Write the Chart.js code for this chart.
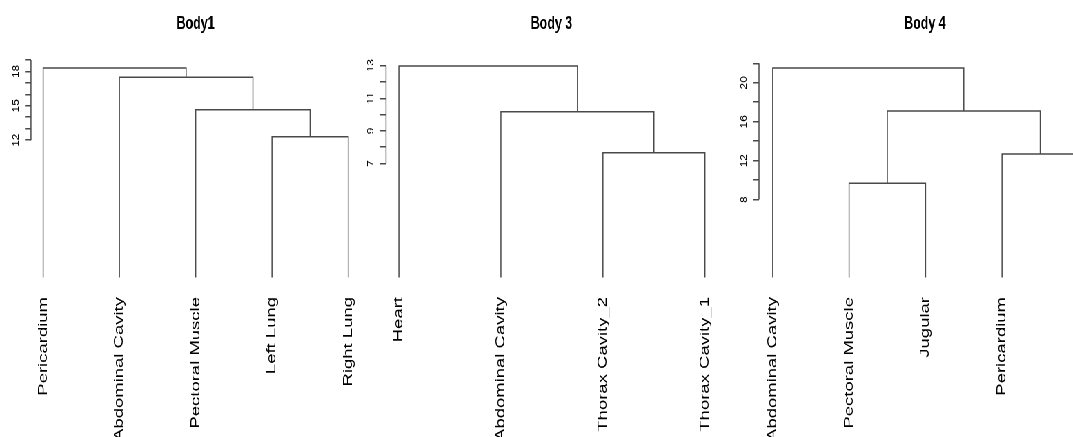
<!DOCTYPE html>
<html>
<head>
<meta charset="utf-8">
<script src="https://cdn.jsdelivr.net/npm/chart.js@4"></script>
<style>
  html, body { margin: 0; padding: 0; background: #fff; width: 1073px; height: 437px; overflow: hidden; }
  #stage { position: absolute; left: 0; top: 0; height: 437px; transform-origin: 0 0; }
  #stage canvas { position: absolute; top: 0; }
</style>
</head>
<body>
<div id="stage"></div>
<script>
// ---- Body1 ----
const body1Leaves = ['Pericardium', 'Abdominal Cavity', 'Pectoral Muscle', 'Left Lung', 'Right Lung'];
// hclust-style merges: negative = leaf (1-based, in plotted order), positive = earlier merge
const body1Merges = [[-4, -5], [-3, 1], [-2, 2], [-1, 3]];
const body1Heights = [12.3, 14.65, 17.5, 18.3];
const body1Ticks = [12, 13, 14, 15, 16, 17, 18, 19];
const body1TickLabels = ['12', '', '', '15', '', '', '18', ''];

// ---- Body 3 ----
const body3Leaves = ['Heart', 'Abdominal Cavity', 'Thorax Cavity_2', 'Thorax Cavity_1'];
const body3Merges = [[-3, -4], [-2, 1], [-1, 2]];
const body3Heights = [7.66, 10.18, 12.98];
const body3Ticks = [7, 8, 9, 10, 11, 12, 13];
const body3TickLabels = ['7', '', '9', '', '11', '', '13'];

// ---- Body 4 ----
const body4Leaves = ['Abdominal Cavity', 'Pectoral Muscle', 'Jugular', 'Pericardium', 'Heart'];
const body4Merges = [[-2, -3], [-4, -5], [1, 2], [-1, 3]];
const body4Heights = [9.67, 12.68, 17.1, 21.53];
const body4Ticks = [8, 10, 12, 14, 16, 18, 20, 22];
const body4TickLabels = ['8', '', '12', '', '16', '', '20', ''];

// ---- drawing setup ----
const SX = 0.69;              // horizontal compression of the whole figure
const H = 437;
const AREA_BOTTOM = 277.5;    // pixel row of height 0
const FAMILY = '"Liberation Sans", Arial, Helvetica, sans-serif';
const LINE = '#4a4a4a';
const LW = 1.5;
const TICK_LEN = 8.7;
const Y_FONT = 12;
const Y_LABEL_OFF = 21.5;
const TITLE_SIZE = 18;
const TITLE_PAD_TOP = 15;

const stage = document.getElementById('stage');
stage.style.width = Math.ceil(1073 / SX + 60) + 'px';
stage.style.transform = `scaleX(${SX})`;

// R-style axis: line only across the tick range, rotated tick labels
const rAxis = {
  id: 'rAxis',
  afterDraw(chart, args, opts) {
    const y = chart.scales.y, ctx = chart.ctx, x0 = chart.chartArea.left;
    const vals = y.ticks.map(t => t.value);
    ctx.save();
    ctx.strokeStyle = LINE;
    ctx.lineWidth = LW;
    ctx.beginPath();
    ctx.moveTo(x0, y.getPixelForValue(Math.min(...vals)));
    ctx.lineTo(x0, y.getPixelForValue(Math.max(...vals)));
    ctx.stroke();
    ctx.fillStyle = '#000';
    ctx.font = `${Y_FONT}px ${FAMILY}`;
    ctx.textAlign = 'center';
    ctx.textBaseline = 'middle';
    opts.labels.forEach((lab, i) => {
      if (!lab) return;
      ctx.save();
      ctx.translate(x0 - Y_LABEL_OFF, y.getPixelForValue(vals[i]));
      ctx.rotate(-Math.PI / 2);
      ctx.fillText(lab, 0, 0);
      ctx.restore();
    });
    ctx.restore();
  }
};

function dendroSegments(merges, heights) {
  const nodes = [], segs = [];
  const at = c => c < 0 ? { x: -c, h: 0 } : nodes[c - 1];
  merges.forEach((m, i) => {
    const a = at(m[0]), b = at(m[1]), h = heights[i];
    segs.push([{ x: a.x, y: a.h }, { x: a.x, y: h }, { x: b.x, y: h }, { x: b.x, y: b.h }]);
    nodes.push({ x: (a.x + b.x) / 2, h });
  });
  return segs;
}

function drawPanel(p) {
  const canvas = document.createElement('canvas');
  const left = Math.round(p.canvasLeft / SX);
  const width = Math.round(p.canvasWidth / SX);
  canvas.width = width;
  canvas.height = H;
  canvas.style.left = left + 'px';
  canvas.style.width = width + 'px';
  canvas.style.height = H + 'px';
  stage.appendChild(canvas);

  const areaLeft = p.axisX / SX - left;
  const areaRight = p.areaRight / SX - left;
  const xMin = 1 - (p.firstLeafX - p.axisX) / p.leafGap;
  const xMax = 1 + (p.areaRight - p.firstLeafX) / p.leafGap;
  const yMax = p.ticks[p.ticks.length - 1];

  new Chart(canvas, {
    type: 'scatter',
    data: {
      datasets: dendroSegments(p.merges, p.heights).map(pts => ({
        data: pts, showLine: true, borderColor: LINE, borderWidth: LW,
        pointRadius: 0, pointHoverRadius: 0, fill: false, tension: 0, clip: false
      }))
    },
    options: {
      responsive: false, animation: false, devicePixelRatio: 1,
      events: [],
      layout: { padding: { left: areaLeft - TICK_LEN, right: width - areaRight, top: 0, bottom: 0 } },
      plugins: {
        legend: { display: false },
        tooltip: { enabled: false },
        title: {
          display: true, text: p.title, fullSize: false, color: '#000',
          font: { family: FAMILY, size: TITLE_SIZE, weight: 'bold', lineHeight: 1 },
          padding: { top: TITLE_PAD_TOP, bottom: p.areaTop - TITLE_PAD_TOP - TITLE_SIZE }
        },
        rAxis: { labels: p.tickLabels }
      },
      scales: {
        x: {
          type: 'linear', min: xMin, max: xMax,
          afterBuildTicks: s => { s.ticks = p.leaves.map((_, i) => ({ value: i + 1 })); },
          afterFit: s => { s.height = H - AREA_BOTTOM; },
          grid: { display: false }, border: { display: false },
          ticks: {
            autoSkip: false, minRotation: 90, maxRotation: 90, padding: 11.5, color: '#000',
            font: { family: FAMILY, size: 18.5 },
            callback: (v, i) => p.leaves[i]
          }
        },
        y: {
          type: 'linear', min: 0, max: yMax,
          afterBuildTicks: s => { s.ticks = p.ticks.map(v => ({ value: v })); },
          afterFit: s => { s.width = TICK_LEN; },
          grid: { drawOnChartArea: false, drawTicks: true, tickLength: TICK_LEN, color: LINE, lineWidth: LW },
          border: { display: false },
          ticks: { display: false }
        }
      }
    },
    plugins: [rAxis]
  });
}

drawPanel({ title: 'Body1', leaves: body1Leaves, merges: body1Merges, heights: body1Heights,
  ticks: body1Ticks, tickLabels: body1TickLabels,
  canvasLeft: 0, canvasWidth: 372, axisX: 31, firstLeafX: 43.3, leafGap: 76.9, areaRight: 363, areaTop: 60 });
drawPanel({ title: 'Body 3', leaves: body3Leaves, merges: body3Merges, heights: body3Heights,
  ticks: body3Ticks, tickLabels: body3TickLabels,
  canvasLeft: 357, canvasWidth: 372, axisX: 386, firstLeafX: 399, leafGap: 103, areaRight: 720, areaTop: 65.7 });
drawPanel({ title: 'Body 4', leaves: body4Leaves, merges: body4Merges, heights: body4Heights,
  ticks: body4Ticks, tickLabels: body4TickLabels,
  canvasLeft: 715, canvasWidth: 392, axisX: 759, firstLeafX: 772.7, leafGap: 76.43, areaRight: 1091, areaTop: 63.3 });
</script>
</body>
</html>
